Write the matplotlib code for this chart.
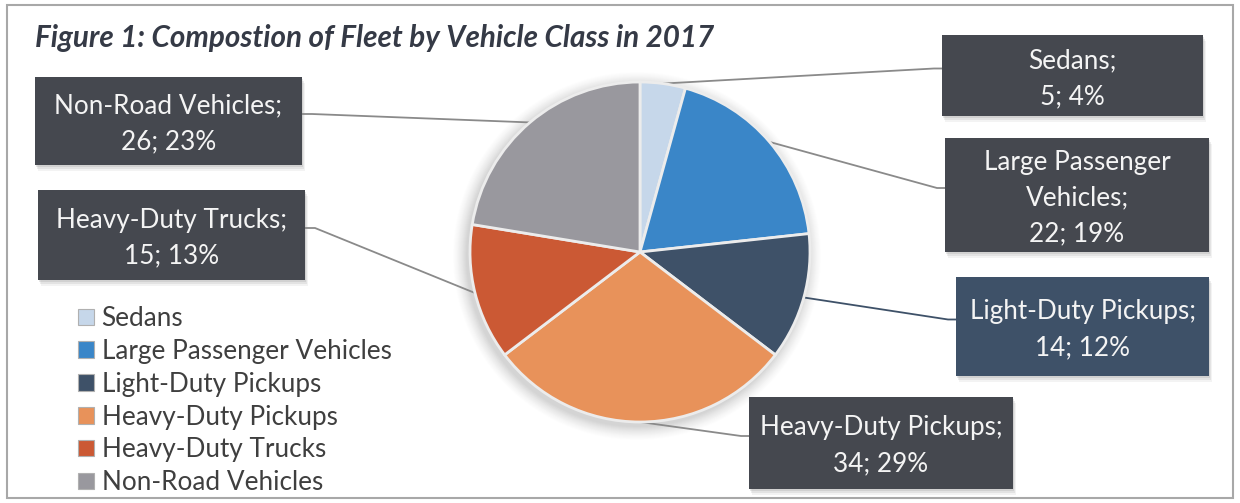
import matplotlib
matplotlib.use("Agg")
import matplotlib.pyplot as plt
from matplotlib.patches import Rectangle, Circle
import numpy as np

# Fleet composition data
categories = ["Sedans", "Large Passenger Vehicles", "Light-Duty Pickups",
              "Heavy-Duty Pickups", "Heavy-Duty Trucks", "Non-Road Vehicles"]
counts = [5, 22, 14, 34, 15, 26]
shares = [4, 19, 12, 29, 13, 23]
label_names = ["Sedans;", "Large Passenger\nVehicles;", "Light-Duty Pickups;",
               "Heavy-Duty Pickups;", "Heavy-Duty Trucks;", "Non-Road Vehicles;"]
title = "Figure 1: Compostion of Fleet by Vehicle Class in 2017"

colors = ["#c6d7ea", "#3a86c8", "#3e5168", "#e8925a", "#cb5934", "#99989e"]
box_colors = ["#45484f", "#45484f", "#3e5168", "#45484f", "#45484f", "#45484f"]
# label boxes: left, top, right, bottom (pixels from top-left)
boxes = [(942, 35, 1203, 116), (945, 138, 1209, 252), (956, 277, 1209, 376),
         (749, 397, 1013, 489), (38, 190, 305, 280), (35, 77, 302, 165)]

W, H = 1240, 503
FONT = ["Lato", "DejaVu Sans"]


def Y(y):
    return H - y


fig = plt.figure(figsize=(W / 100, H / 100), dpi=100)
fig.patch.set_facecolor("white")
ax = fig.add_axes([0, 0, 1, 1])

cx, cy, R = 640, 252, 170

# soft halo around the pie
for k, a in zip(range(14, 0, -1), np.linspace(0.012, 0.05, 14)):
    ax.add_patch(Circle((cx - 3, Y(cy + 4)), R + k, color="#9a9a9a", alpha=a,
                        lw=0, zorder=1))

wedges, _ = ax.pie(counts, colors=colors, startangle=90, counterclock=False,
                   center=(cx, Y(cy)), radius=R,
                   wedgeprops=dict(edgecolor="#ececec", linewidth=2))
for w in wedges:
    w.set_zorder(3)

ax.set_xlim(0, W)
ax.set_ylim(0, H)
ax.set_aspect("equal")
ax.axis("off")

# outer frame
ax.add_patch(Rectangle((7, Y(498)), 1226, 493, fill=False, ec="#a8a8a8",
                       lw=1.5, zorder=0))

ax.text(35, Y(38), title, fontsize=21.3, fontweight="bold", style="italic",
        color="#353a46", family=FONT, ha="left", va="center", zorder=5)

for i, (w, (x0, y0, x1, y1)) in enumerate(zip(wedges, boxes)):
    # leader line from the wedge's arc midpoint to the label box
    mid = np.deg2rad((w.theta1 + w.theta2) / 2)
    px, py = cx + R * np.cos(mid), Y(cy) + R * np.sin(mid)
    ay = (y0 + y1) / 2 - 7
    if x0 > cx:
        bx, stub = x0, x0 - 8
    else:
        bx, stub = x1, x1 + 10
    lc = "#3e5168" if i == 2 else "#8a8a8a"
    ax.plot([px, stub, bx], [py, Y(ay), Y(ay)], color=lc, lw=1.3,
            zorder=2, solid_capstyle="butt")

    # shadow then box
    for off, al in ((6, 0.10), (4, 0.15), (2, 0.2)):
        ax.add_patch(Rectangle((x0 + off * 0.5, Y(y1 + off)), x1 - x0,
                               y1 - y0, color="#8c8c8c", alpha=al, lw=0,
                               zorder=4))
    ax.add_patch(Rectangle((x0, Y(y1)), x1 - x0, y1 - y0,
                           color=box_colors[i], lw=0, zorder=5))
    txt = f"{label_names[i]}\n{counts[i]}; {shares[i]}%"
    ax.text((x0 + x1) / 2, Y((y0 + y1) / 2 + 3), txt, fontsize=18.8,
            color="#f4f4f4", family=FONT, ha="center", va="center",
            ma="center", linespacing=1.55, zorder=6)

leg = ax.legend(wedges, categories, loc="upper left",
                bbox_to_anchor=(78, Y(306)), bbox_transform=ax.transData,
                frameon=False, borderpad=0, borderaxespad=0,
                handlelength=0.6, handleheight=0.6, handletextpad=0.3,
                labelspacing=0.3, prop=dict(family=FONT, size=18.8))
for t in leg.get_texts():
    t.set_color("#3f3f3f")
for hnd in leg.legend_handles:
    hnd.set_edgecolor("#b0b0b0")
    hnd.set_linewidth(0.8)

fig.savefig("out.png", dpi=100, facecolor="white")
